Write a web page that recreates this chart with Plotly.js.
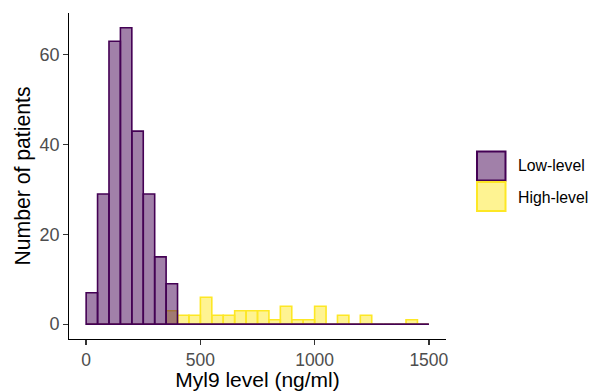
<!DOCTYPE html>
<html>
<head>
<meta charset="utf-8">
<script src="https://cdn.plot.ly/plotly-3.0.1.min.js"></script>
<style>html,body{margin:0;padding:0;background:#fff;}#chart{width:590px;height:391px;}</style>
</head>
<body>
<div id="chart"></div>
<script>
// Histogram bins (left edges, ng/ml), bin width 50
const binStarts = [0,50,100,150,200,250,300,350,400,450,500,550,600,650,700,750,800,850,900,950,1000,1050,1100,1150,1200,1250,1300,1350,1400,1450];
const binWidth = 50;
// Number of patients per bin
const lowCounts  = [7,29,63,66,43,29,15,9,0,0,0,0,0,0,0,0,0,0,0,0,0,0,0,0,0,0,0,0,0,0];
const highCounts = [0,0,0,0,0,0,0,3,2,2,6,2,2,3,3,3,1,4,1,1,4,0,2,0,2,0,0,0,1,0];
const seriesNames = ['Low-level','High-level'];
const xTicks = [0,500,1000,1500];
const yTicks = [0,20,40,60];

const purple = '#440154', purpleFill = 'rgba(68,1,84,0.5)';
const yellow = '#FDE725', yellowFill = 'rgba(253,231,37,0.5)';
const centers = binStarts.map(b => b + binWidth/2);

const traces = [
  {type:'bar', x:centers, y:highCounts, width:binWidth, name:seriesNames[1], showlegend:false,
   marker:{color:yellowFill, line:{color:yellow, width:1.6}}, hoverinfo:'x+y'},
  {type:'bar', x:centers, y:lowCounts, width:binWidth, name:seriesNames[0], showlegend:false,
   marker:{color:purpleFill, line:{color:purple, width:1.6}}, hoverinfo:'x+y'},
  {type:'scatter', mode:'lines', x:[binStarts[0], binStarts[binStarts.length-1]+binWidth], y:[0,0],
   line:{color:purple, width:1.6}, showlegend:false, hoverinfo:'skip'}
];

// plot area in pixels
const L = 69, R = 446, T = 13, B = 339, W = 590, H = 391;
const px = x => (x - L) / (R - L);
const py = y => (B - y) / (B - T);

const shapes = [
  {type:'rect', xref:'paper', yref:'paper', x0:px(477), x1:px(505.5), y0:py(180.5), y1:py(151.5),
   fillcolor:purpleFill, line:{color:purple, width:2}},
  {type:'rect', xref:'paper', yref:'paper', x0:px(477), x1:px(505.5), y0:py(211), y1:py(182),
   fillcolor:yellowFill, line:{color:yellow, width:2}}
];
const annotations = [
  {xref:'paper', yref:'paper', x:px(515.5), y:py(166), xanchor:'left', yanchor:'middle', showarrow:false,
   text:seriesNames[0], font:{family:'Liberation Sans, Arial', size:15.8, color:'#000'}},
  {xref:'paper', yref:'paper', x:px(515.5), y:py(197), xanchor:'left', yanchor:'middle', showarrow:false,
   text:seriesNames[1], font:{family:'Liberation Sans, Arial', size:15.8, color:'#000'}}
];

const layout = {
  width:W, height:H,
  margin:{l:L, r:W-R, t:T, b:H-B, pad:0},
  paper_bgcolor:'#fff', plot_bgcolor:'#fff',
  barmode:'overlay', bargap:0,
  showlegend:false,
  font:{family:'Liberation Sans, Arial', color:'#000'},
  xaxis:{range:[-75,1575], tickvals:xTicks, ticktext:xTicks.map(String),
    showgrid:false, zeroline:false, showline:true, linecolor:'#000', linewidth:1.4,
    ticks:'outside', ticklen:4.5, tickwidth:1.3, tickcolor:'#333',
    tickfont:{size:17.5, color:'#4D4D4D'},
    title:{text:'Myl9 level (ng/ml)', font:{size:21, color:'#000'}, standoff:4},
    automargin:false, fixedrange:true},
  yaxis:{range:[-3.3,69.3], tickvals:yTicks, ticktext:yTicks.map(String),
    showgrid:false, zeroline:false, showline:true, linecolor:'#000', linewidth:1.4,
    ticks:'outside', ticklen:4.5, tickwidth:1.3, tickcolor:'#333',
    tickfont:{size:18, color:'#4D4D4D'},
    title:{text:'Number of patients', font:{size:21.2, color:'#000'}, standoff:3},
    automargin:false, fixedrange:true},
  shapes:shapes, annotations:annotations
};

Plotly.newPlot('chart', traces, layout, {displayModeBar:false, staticPlot:true});
</script>
</body>
</html>
